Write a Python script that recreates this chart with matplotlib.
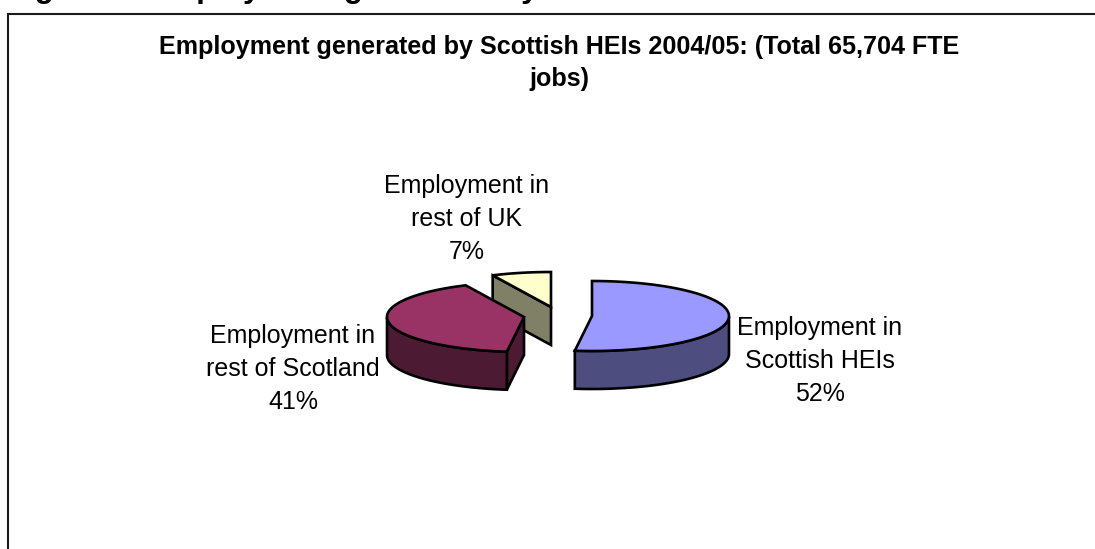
import matplotlib
matplotlib.use('Agg')
import matplotlib.pyplot as plt
from matplotlib.patches import Polygon
import numpy as np

W, H = 1095, 549

heading = 'Figure 5: Employment generated by Scottish HEIs'
title = 'Employment generated by Scottish HEIs 2004/05: (Total 65,704 FTE\njobs)'
labels = ['Employment in\nScottish HEIs', 'Employment in\nrest of Scotland', 'Employment in\nrest of UK']
shares = [52, 41, 7]
top_colors = ['#9999FF', '#993366', '#FFFFCC']
side_colors = ['#4D4D80', '#4D1A33', '#808066']

# pie apex of each exploded slice, in pixels
centres = [(592, 316), (524, 317), (551, 307)]
rx, ry, depth = 137, 35, 38
label_pos = [(820, 361), (293, 369), (467, 219)]

plt.rcParams['font.family'] = ['Liberation Sans', 'DejaVu Sans']
fig = plt.figure(figsize=(W / 100, H / 100), dpi=100)
ax = fig.add_axes([0, 0, 1, 1])
ax.set_xlim(0, W)
ax.set_ylim(H, 0)
ax.axis('off')


def rim(c, a0, a1):
    t = np.radians(np.linspace(a0, a1, 120))
    return np.column_stack([c[0] + rx * np.sin(t), c[1] - ry * np.cos(t)])


edges = np.cumsum([0] + shares) * 3.6


def draw_slice(i, z):
    c = np.array(centres[i])
    a0, a1 = edges[i], edges[i + 1]
    pts = rim(c, a0, a1)
    down = np.array([0, depth])
    kw = dict(ec='black', lw=1.9, joinstyle='miter', zorder=z)
    # radial wall facing the viewer
    if i > 0:
        wall = [c, pts[0], pts[0] + down, c + down]
        ax.add_patch(Polygon(wall, fc=side_colors[i], **kw))
    # outer rim, only the front half can be seen
    t = np.linspace(a0, a1, 120)
    front = pts[(t >= 90) & (t <= 270)]
    if len(front):
        ax.add_patch(Polygon(np.vstack([front, (front + down)[::-1]]),
                             fc=side_colors[i], **kw))
    ax.add_patch(Polygon(np.vstack([[c], pts]), fc=top_colors[i], **kw))


draw_slice(2, 2)
draw_slice(1, 3)
draw_slice(0, 4)

# frame, cut off at the right of the picture
ax.plot([8, 8, W], [548, 14, 14], color='#1a1a1a', lw=1.5, solid_joinstyle='miter')

# heading sits mostly above the picture, as in the reference
ax.text(7, -3.5, heading, fontsize=22.5, fontweight='bold', va='baseline', ha='left')
ax.text(559.5, 63, title, fontsize=18.1, fontweight='bold', ha='center', va='center',
        linespacing=1.42)
for lab, share, (x, y) in zip(labels, shares, label_pos):
    ax.text(x, y, '%s\n%d%%' % (lab, share), fontsize=18, ha='center', va='center',
            linespacing=1.45)

fig.savefig('out.png', dpi=100)
